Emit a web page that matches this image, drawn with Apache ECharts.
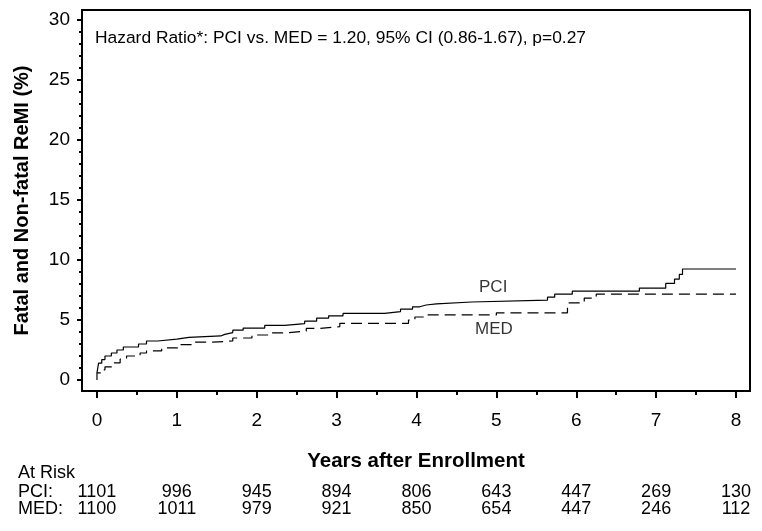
<!DOCTYPE html>
<html>
<head>
<meta charset="utf-8">
<script src="https://cdn.jsdelivr.net/npm/echarts@6/dist/echarts.min.js"></script>
<style>html,body{margin:0;padding:0;background:#fff}#c{width:762px;height:531px}</style>
</head>
<body>
<div id="c"></div>
<script>
// ---- data ----
var xTicks = [0, 1, 2, 3, 4, 5, 6, 7, 8];
var xMinorTicks = [0.5, 1.5, 2.5, 3.5, 4.5, 5.5, 6.5, 7.5];
var yTicks = [0, 5, 10, 15, 20, 25, 30];
var yMinorTicks = [1,2,3,4,6,7,8,9,11,12,13,14,16,17,18,19,21,22,23,24,26,27,28,29];
var pciTimes = [0, 0.02, 0.06, 0.1, 0.18, 0.25, 0.33, 0.52, 0.62, 0.76, 1.0, 1.15, 1.55, 1.6, 1.7, 1.83, 2.1, 2.35, 2.6, 2.75, 2.9, 3.08, 3.6, 3.8, 3.95, 4.04, 4.12, 4.25, 4.69, 5.64, 5.73, 5.95, 6.79, 7.12, 7.23, 7.29, 7.33, 8.0];
var pciValues = [0.6, 1.4, 1.7, 2.0, 2.25, 2.5, 2.75, 3.0, 3.25, 3.4, 3.55, 3.67, 3.8, 3.95, 4.15, 4.33, 4.55, 4.7, 4.9, 5.15, 5.35, 5.55, 5.7, 5.9, 6.1, 6.25, 6.35, 6.5, 6.65, 6.9, 7.15, 7.4, 7.65, 8.05, 8.4, 8.8, 9.25, 9.25];
var medTimes = [0, 0, 0.06, 0.1, 0.2, 0.29, 0.37, 0.54, 0.62, 0.81, 1.01, 1.2, 1.45, 1.7, 1.94, 2.16, 2.35, 2.62, 2.79, 3.04, 3.9, 3.98, 4.12, 5.0, 5.89, 6.1, 6.25, 8.0];
var medValues = [0, 0.6, 0.85, 1.1, 1.42, 1.75, 2.0, 2.25, 2.42, 2.67, 2.95, 3.15, 3.25, 3.5, 3.75, 3.92, 4.08, 4.3, 4.45, 4.72, 5.0, 5.25, 5.42, 5.6, 6.42, 6.83, 7.15, 7.15];
var pciAtRisk = [1101, 996, 945, 894, 806, 643, 447, 269, 130];
var medAtRisk = [1100, 1011, 979, 921, 850, 654, 447, 246, 112];
var curveLabels = ['PCI', 'MED'];
var hazardText = 'Hazard Ratio*: PCI vs. MED = 1.20, 95% CI (0.86-1.67), p=0.27';

function pairs(xs, ys) { return xs.map(function (x, i) { return [x, ys[i]]; }); }

var FONT = '"Liberation Sans", Arial, sans-serif';
var chart = echarts.init(document.getElementById('c'), null, { renderer: 'canvas' });

function bottomAxis(extra) {
  var base = {
    type: 'value', gridIndex: 0, position: 'bottom', min: -0.1875, max: 8.175,
    axisLine: { show: false, onZero: false }, splitLine: { show: false },
    axisTick: { show: false }, axisLabel: { show: false }
  };
  for (var k in extra) base[k] = extra[k];
  return base;
}
function leftAxis(extra) {
  var base = {
    type: 'value', gridIndex: 0, position: 'left', min: -0.917, max: 30.83,
    axisLine: { show: false, onZero: false }, splitLine: { show: false },
    axisTick: { show: false }, axisLabel: { show: false }
  };
  for (var k in extra) base[k] = extra[k];
  return base;
}

var option = {
  animation: false,
  backgroundColor: '#fff',
  textStyle: { fontFamily: FONT, color: '#000' },
  grid: { left: 82, right: 12, top: 10, bottom: 140, show: true, borderColor: '#000', borderWidth: 2, backgroundColor: 'transparent' },
  xAxis: [
    bottomAxis({
      name: 'Years after Enrollment', nameLocation: 'middle', nameGap: 60,
      nameTextStyle: { fontFamily: FONT, fontSize: 20.5, fontWeight: 'bold', color: '#000' },
      axisTick: { show: true, customValues: xTicks, length: 7, lineStyle: { color: '#000', width: 2 } },
      axisLabel: { show: true, customValues: xTicks, fontSize: 19, margin: 20, color: '#000', fontFamily: FONT }
    }),
    bottomAxis({
      axisTick: { show: true, customValues: xMinorTicks, length: 4, lineStyle: { color: '#000', width: 2 } }
    }),
    bottomAxis({
      offset: 92,
      axisLabel: { show: true, customValues: xTicks, margin: 0, fontSize: 18, color: '#000', fontFamily: FONT,
        formatter: function (v) { return String(pciAtRisk[Math.round(v)]); } }
    }),
    bottomAxis({
      offset: 109,
      axisLabel: { show: true, customValues: xTicks, margin: 0, fontSize: 18, color: '#000', fontFamily: FONT,
        formatter: function (v) { return String(medAtRisk[Math.round(v)]); } }
    })
  ],
  yAxis: [
    leftAxis({
      name: 'Fatal and Non-fatal ReMI (%)', nameLocation: 'middle', nameGap: 50,
      nameTextStyle: { fontFamily: FONT, fontSize: 20, fontWeight: 'bold', color: '#000' },
      axisTick: { show: true, customValues: yTicks, length: 5, lineStyle: { color: '#000', width: 2 } },
      axisLabel: { show: true, customValues: yTicks, fontSize: 19, margin: 12, color: '#000', fontFamily: FONT }
    }),
    leftAxis({
      axisTick: { show: true, customValues: yMinorTicks, length: 3, lineStyle: { color: '#000', width: 2 } }
    })
  ],
  graphic: [
    { type: 'text', left: 95, top: 30, style: { text: hazardText, font: '17.4px ' + FONT, fill: '#000' } },
    { type: 'text', left: 18, top: 464, style: { text: 'At Risk', font: '18px ' + FONT, fill: '#000' } },
    { type: 'text', left: 18, top: 483, style: { text: 'PCI:', font: '18px ' + FONT, fill: '#000' } },
    { type: 'text', left: 18, top: 500, style: { text: 'MED:', font: '18px ' + FONT, fill: '#000' } }
  ],
  series: [
    {
      name: 'PCI', type: 'line', step: 'end', xAxisIndex: 0, yAxisIndex: 0,
      data: pairs(pciTimes, pciValues), showSymbol: false, symbol: 'none',
      lineStyle: { color: '#000', width: 1.2, type: 'solid' }
    },
    {
      name: 'MED', type: 'line', step: 'end', xAxisIndex: 0, yAxisIndex: 0,
      data: pairs(medTimes, medValues), showSymbol: false, symbol: 'none',
      lineStyle: { color: '#000', width: 1.2, type: [11, 6] }
    },
    {
      name: 'labels', type: 'scatter', xAxisIndex: 0, yAxisIndex: 0, silent: true,
      symbolSize: 1, itemStyle: { color: 'rgba(0,0,0,0)' },
      data: [[4.96, 7.75, curveLabels[0]], [4.97, 4.25, curveLabels[1]]],
      label: { show: true, position: 'inside', fontSize: 17, color: '#000', fontFamily: FONT,
        formatter: function (p) { return p.data[2]; } }
    }
  ]
};
chart.setOption(option);
</script>
</body>
</html>
